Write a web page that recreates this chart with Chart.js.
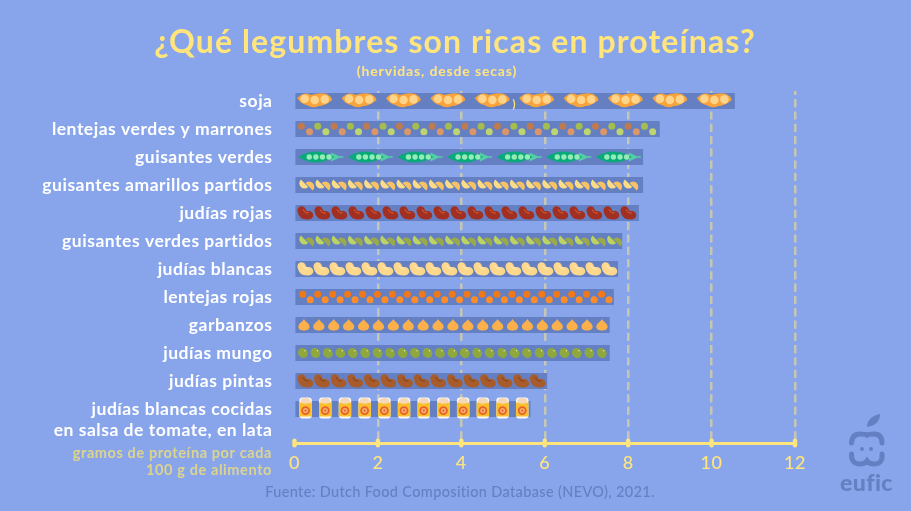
<!DOCTYPE html>
<html lang="es">
<head>
<meta charset="utf-8">
<title>Legumbres y proteínas</title>
<script src="https://cdn.jsdelivr.net/npm/chart.js@4"></script>
<style>
  html, body { margin: 0; padding: 0; background: #88a5eb; overflow: hidden; }
  canvas { display: block; }
</style>
</head>
<body>
<canvas id="legumbres" width="911" height="511"></canvas>
<script>
// Datos del grafico
const categorias = [
    'soja',
    'lentejas verdes y marrones',
    'guisantes verdes',
    'guisantes amarillos partidos',
    'judías rojas',
    'guisantes verdes partidos',
    'judías blancas',
    'lentejas rojas',
    'garbanzos',
    'judías mungo',
    'judías pintas',
    ['', 'judías blancas cocidas', 'en salsa de tomate, en lata']
];
const proteinas = [10.55, 8.75, 8.35, 8.35, 8.25, 7.85, 7.75, 7.65, 7.55, 7.55, 6.05, 5.65];
const ticksX = [0, 2, 4, 6, 8, 10, 12];

const titulo = '¿Qué legumbres son ricas en proteínas?';
const subtitulo = '(hervidas, desde secas)';
const notaEje = ['gramos de proteína por cada', '100 g de alimento'];
const fuente = 'Fuente: Dutch Food Composition Database (NEVO), 2021.';

const FONT = 'Lato, sans-serif';
const AMARILLO = '#ffe57c';
const AZUL = '#6480c2';

// Dibujos de cada legumbre (cx = centro del dibujo, cy = centro de la barra)
function disco(ctx, x, y, r, color) {
    ctx.fillStyle = color;
    ctx.beginPath();
    ctx.arc(x, y, r, 0, Math.PI * 2);
    ctx.fill();
}

function vainaSoja(ctx, cx, cy) {
    ctx.fillStyle = '#f9a33c';
    ctx.beginPath();
    ctx.moveTo(cx - 17.5, cy - 3);
    ctx.quadraticCurveTo(cx - 10, cy - 10, cx - 4, cy - 6);
    ctx.quadraticCurveTo(cx + 6, cy - 9, cx + 12, cy - 7);
    ctx.quadraticCurveTo(cx + 16, cy - 5, cx + 17.5, cy - 1);
    ctx.quadraticCurveTo(cx + 10, cy + 5, cx + 4, cy + 5);
    ctx.quadraticCurveTo(cx - 2, cy + 8, cx - 8, cy + 4);
    ctx.quadraticCurveTo(cx - 14, cy + 3, cx - 17.5, cy - 3);
    ctx.fill();
    disco(ctx, cx - 10, cy - 2.2, 4.3, '#fdd48a');
    disco(ctx, cx, cy - 1, 4.3, '#fdd48a');
    disco(ctx, cx + 10, cy - 1.6, 4.3, '#fdd48a');
}

function lentejas(colores) {
    let n = 0;
    return (ctx, cx, cy) => {
        const abajo = n % 2 === 1;
        disco(ctx, cx, cy + (abajo ? 2.7 : -2.7), 3.5, colores[n % colores.length]);
        n++;
    };
}

function vainaGuisante(ctx, cx, cy) {
    const x = cx - 22.5;
    ctx.fillStyle = '#52cfa6';
    ctx.beginPath();
    ctx.moveTo(x + 33, cy - 4.5);
    ctx.lineTo(x + 41, cy - 0.7);
    ctx.lineTo(x + 45, cy - 0.7);
    ctx.lineTo(x + 45, cy + 0.7);
    ctx.lineTo(x + 41, cy + 0.7);
    ctx.lineTo(x + 33, cy + 4.5);
    ctx.fill();
    ctx.fillStyle = '#0aa97c';
    ctx.beginPath();
    ctx.moveTo(x, cy);
    ctx.quadraticCurveTo(x + 17, cy - 11, x + 36, cy);
    ctx.quadraticCurveTo(x + 17, cy + 11, x, cy);
    ctx.fill();
    for (let k = 0; k < 4; k++) disco(ctx, x + 11 + k * 6.6, cy, 2.7, '#93ecb4');
}

function mitades(claro, oscuro) {
    let n = 0;
    return (ctx, cx, cy) => {
        const izq = n % 2 === 0;
        ctx.fillStyle = izq ? claro : oscuro;
        ctx.beginPath();
        if (izq) ctx.arc(cx + 1.8, cy - 1.8, 5.2, Math.PI / 4, Math.PI * 5 / 4);
        else ctx.arc(cx - 1.8, cy + 1.8, 5.2, Math.PI * 5 / 4, Math.PI / 4);
        ctx.fill();
        n++;
    };
}

function judia(color, brillo, ancho) {
    return (ctx, cx, cy) => {
        ctx.lineCap = 'round';
        ctx.lineJoin = 'round';
        ctx.strokeStyle = color;
        ctx.lineWidth = ancho;
        ctx.beginPath();
        ctx.moveTo(cx - 3.6, cy - 2.6);
        ctx.quadraticCurveTo(cx - 2.6, cy + 3, cx + 3.8, cy + 2.2);
        ctx.stroke();
        ctx.strokeStyle = brillo;
        ctx.lineWidth = 1;
        ctx.beginPath();
        ctx.moveTo(cx - 2, cy - 3.2);
        ctx.quadraticCurveTo(cx - 0.6, cy + 0.4, cx + 3, cy);
        ctx.stroke();
    };
}

function garbanzo(ctx, cx, cy) {
    ctx.fillStyle = '#fbb04c';
    ctx.beginPath();
    ctx.moveTo(cx, cy - 6.3);
    ctx.bezierCurveTo(cx + 1, cy - 3, cx + 5.6, cy - 2, cx + 5.6, cy + 1.6);
    ctx.bezierCurveTo(cx + 5.6, cy + 4.6, cx + 3, cy + 5.6, cx, cy + 5.6);
    ctx.bezierCurveTo(cx - 3, cy + 5.6, cx - 5.6, cy + 4.6, cx - 5.6, cy + 1.6);
    ctx.bezierCurveTo(cx - 5.6, cy - 2, cx - 1, cy - 3, cx, cy - 6.3);
    ctx.fill();
}

function mungo(ctx, cx, cy) {
    ctx.fillStyle = '#8fa83e';
    ctx.beginPath();
    ctx.ellipse(cx, cy, 5.2, 4.6, Math.PI / 4, 0, Math.PI * 2);
    ctx.fill();
    disco(ctx, cx + 2, cy - 2.2, 0.7, '#e6ee9c');
}

function lata(ctx, cx, cy) {
    const x = cx - 6.2, arriba = cy - 11.5;
    ctx.fillStyle = '#fbfbf4';
    ctx.beginPath();
    ctx.roundRect(x, arriba, 12.4, 21, 3);
    ctx.fill();
    ctx.fillStyle = '#f9c02c';
    ctx.fillRect(x, arriba + 5, 12.4, 14);
    ctx.fillStyle = '#f6d7b8';
    ctx.beginPath();
    ctx.ellipse(cx, arriba + 3.4, 5, 2.8, 0, 0, Math.PI * 2);
    ctx.fill();
    disco(ctx, cx, cy + 1.6, 4.4, '#e8602c');
    disco(ctx, cx, cy + 1.6, 2.6, '#f6b26b');
    disco(ctx, cx, cy + 1.6, 1.1, '#e8602c');
}

// Para cada fila: centro del primer dibujo (desde el inicio de la barra), paso y dibujo
const filas = [
    { inicio: 19, paso: 44.4, medio: 17.5, dibuja: vainaSoja },
    { inicio: 5.6, paso: 8.17, medio: 3, dibuja: lentejas(['#bf7a50', '#da9568', '#a4bd4e', '#bed470']) },
    { inicio: 25, paso: 49.6, medio: 22.5, dibuja: vainaGuisante },
    { inicio: 7, paso: 8.1, medio: 3, dibuja: mitades('#fcdc86', '#f8c264') },
    { inicio: 9.5, paso: 17, medio: 7, dibuja: judia('#a23022', '#e2622e', 8.4) },
    { inicio: 7, paso: 8.1, medio: 3, dibuja: mitades('#bcd262', '#9aaa48') },
    { inicio: 9.5, paso: 16, medio: 7, dibuja: judia('#fcd88e', '#fff0c8', 8.4) },
    { inicio: 7, paso: 7.47, medio: 3, dibuja: lentejas(['#f07818', '#ff8c28']) },
    { inicio: 8.2, paso: 14.9, medio: 5, dibuja: garbanzo },
    { inicio: 7.2, paso: 12.45, medio: 5, dibuja: mungo },
    { inicio: 9.5, paso: 16.6, medio: 7, dibuja: judia('#a85c2c', '#7c3f1c', 8.4) },
    { inicio: 9.8, paso: 19.7, medio: 6, dibuja: lata }
];

// Dibujos encima de las barras
const legumbresPlugin = {
    id: 'legumbres',
    afterDatasetsDraw(chart) {
        const ctx = chart.ctx;
        ctx.save();
        chart.getDatasetMeta(0).data.forEach((bar, i) => {
            const fila = filas[i];
            for (let x = bar.base + fila.inicio; x + fila.medio <= bar.x; x += fila.paso) {
                fila.dibuja(ctx, x, bar.y);
            }
        });
        ctx.restore();
    }
};

// Textos sueltos, marcas del eje y logo
function texto(ctx, str, x, y, font, color, align, espacio) {
    ctx.font = font;
    ctx.fillStyle = color;
    ctx.textAlign = align;
    ctx.textBaseline = 'middle';
    ctx.letterSpacing = (espacio || 0) + 'px';
    ctx.fillText(str, x, y);
    ctx.letterSpacing = '0px';
}

function logoEufic(ctx) {
    ctx.strokeStyle = AZUL;
    ctx.fillStyle = AZUL;
    ctx.lineWidth = 5;
    ctx.lineCap = 'round';
    ctx.beginPath();
    ctx.moveTo(851.5, 443);
    ctx.quadraticCurveTo(852, 434, 860, 434);
    ctx.quadraticCurveTo(866, 434, 867, 435);
    ctx.quadraticCurveTo(868, 434, 874, 434);
    ctx.quadraticCurveTo(882, 434, 882, 443);
    ctx.stroke();
    ctx.beginPath();
    ctx.moveTo(851.5, 454);
    ctx.quadraticCurveTo(851, 464, 860, 464);
    ctx.quadraticCurveTo(865, 464, 867, 461);
    ctx.quadraticCurveTo(869, 464, 874, 464);
    ctx.quadraticCurveTo(883, 464, 882, 454);
    ctx.stroke();
    disco(ctx, 862, 449, 2, AZUL);
    disco(ctx, 871, 449, 2, AZUL);
    ctx.beginPath();
    ctx.moveTo(867, 427);
    ctx.quadraticCurveTo(867, 417, 880, 414);
    ctx.quadraticCurveTo(880, 425, 867, 427);
    ctx.fill();
    texto(ctx, 'eufic', 866.5, 484, '900 23px ' + FONT, AZUL, 'center', 0.4);
}

const decoradoPlugin = {
    id: 'decorado',
    // las etiquetas de los ejes van un poco mas abiertas
    beforeDraw(chart) { chart.ctx.letterSpacing = '0.52px'; },
    beforeDatasetsDraw(chart) { chart.ctx.letterSpacing = '0px'; },
    afterDraw(chart) {
        const ctx = chart.ctx;
        const escalaX = chart.scales.x;
        ctx.save();
        ctx.fillStyle = AMARILLO;
        ticksX.forEach(v => {
            const px = escalaX.getPixelForValue(v);
            ctx.beginPath();
            ctx.roundRect(px - 2.2, chart.chartArea.bottom - 4.5, 4.4, 9, 2.2);
            ctx.fill();
        });
        texto(ctx, titulo, 455, 43, '700 32px ' + FONT, AMARILLO, 'center', 1.1);
        texto(ctx, subtitulo, 437, 71, '700 14px ' + FONT, AMARILLO, 'center', 0.85);
        texto(ctx, ')', 514, 104, '700 11px ' + FONT, AMARILLO, 'center');
        notaEje.forEach((linea, i) => {
            texto(ctx, linea, 272, 453 + i * 17, '700 14.5px ' + FONT, '#dcd48e', 'right', 0.6);
        });
        texto(ctx, fuente, 460, 492, '500 14.5px ' + FONT, AZUL, 'center', 0.35);
        logoEufic(ctx);
        ctx.restore();
    }
};

// Configuracion del grafico
const config = {
    type: 'bar',
    data: {
        datasets: [{
            data: proteinas.map((v, i) => ({ x: v, y: i })),
            backgroundColor: AZUL,
            borderWidth: 0,
            barThickness: 15.5
        }]
    },
    options: {
        indexAxis: 'y',
        responsive: false,
        animation: false,
        layout: { padding: { right: 116, top: 91, bottom: 0, left: 0 } },
        plugins: {
            legend: { display: false },
            tooltip: { enabled: false },
            title: { display: false }
        },
        scales: {
            x: {
                type: 'linear',
                min: 0,
                max: 12,
                afterFit: s => { s.height = 68; },
                afterBuildTicks: s => { s.ticks = ticksX.map(v => ({ value: v })); },
                ticks: {
                    color: AMARILLO,
                    padding: 9,
                    maxRotation: 0,
                    font: { family: FONT, size: 18, weight: '500' }
                },
                border: { display: true, color: AMARILLO, width: 3, dash: [8.2, 4.1], dashOffset: 4.2 },
                grid: {
                    drawTicks: false,
                    lineWidth: 2.5,
                    color: c => (c.tick && c.tick.value === 0) ? 'transparent' : '#c4c7b4'
                }
            },
            y: {
                type: 'linear',
                reverse: true,
                offset: false,
                min: -0.357,
                max: 12.214,
                afterFit: s => { s.width = 294.5; },
                afterBuildTicks: s => { s.ticks = categorias.map((_, i) => ({ value: i })); },
                ticks: {
                    color: '#ffffff',
                    padding: 22,
                    autoSkip: false,
                    callback: v => categorias[v],
                    font: { family: FONT, size: 17.5, weight: '700', lineHeight: 1.2 }
                },
                border: { display: false },
                grid: { display: false, drawTicks: false, offset: false }
            }
        }
    },
    plugins: [legumbresPlugin, decoradoPlugin]
};

// Inicializar grafico
new Chart(document.getElementById('legumbres').getContext('2d'), config);
</script>
</body>
</html>
